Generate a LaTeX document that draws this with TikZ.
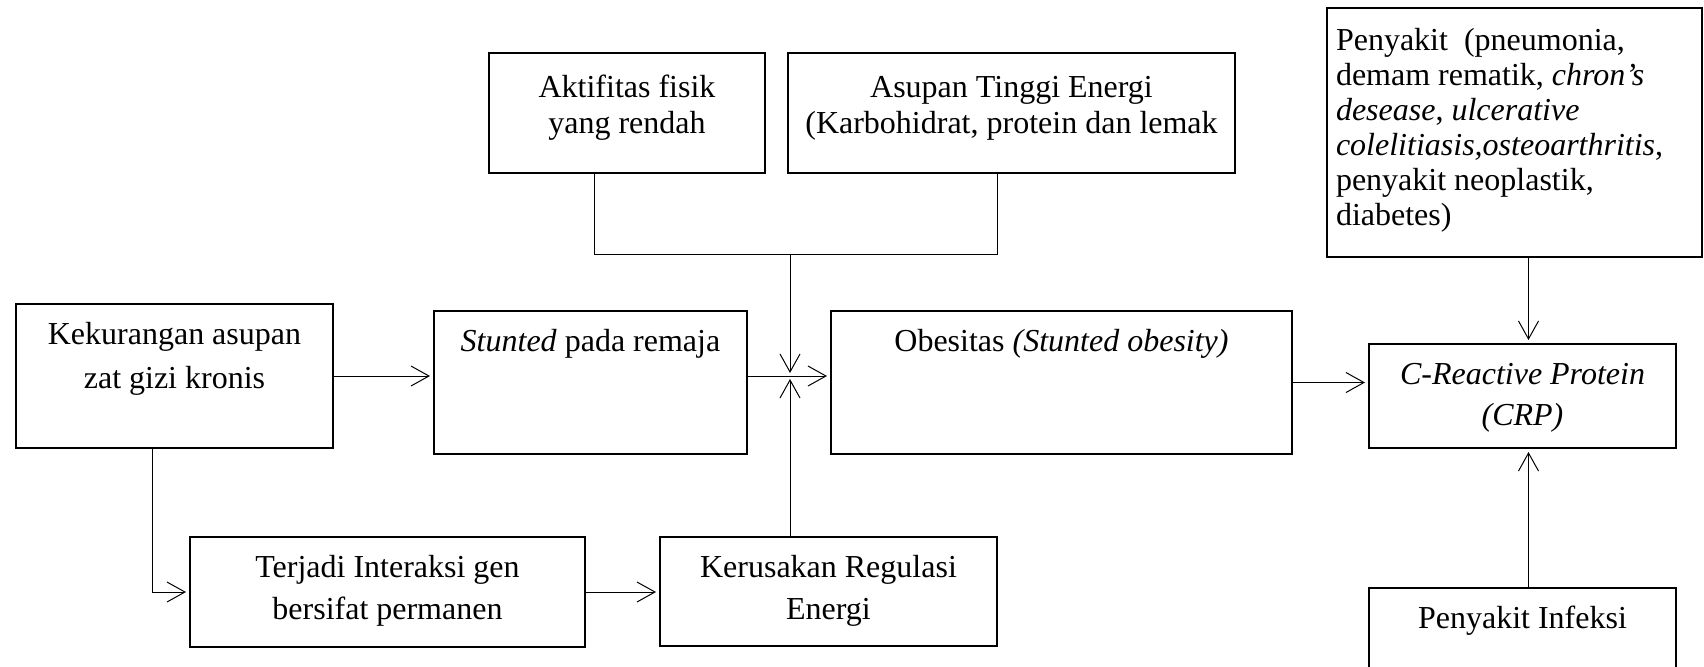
\documentclass[tikz,border=0pt]{standalone}
\usepackage{fontspec}
\setmainfont{Liberation Serif}
\usetikzlibrary{calc,arrows.meta}

% text set at the top of a box of given width and height
\newcommand{\boxtext}[4][20pt]{\parbox[c][#3][t]{#2}{\centering\rule{0pt}{#1}#4}}

\begin{document}
\begin{tikzpicture}[x=0.5pt,y=-0.5pt,font=\fontsize{16pt}{22pt}\selectfont]
% Define common parameters
\tikzset{
  box/.style={draw, line width=1pt, anchor=north west, inner sep=0pt},
  skip/.style={font=\fontsize{16pt}{#1}\selectfont},
  arr/.style={-{Straight Barb[length=9pt,width=10pt]}, line width=0.5pt, shorten >=1.5pt},
  link/.style={line width=0.5pt}
}
\clip (0,0) rectangle (1704,666);

% Left part: causes
\node[box] (kek) at (15,303) {\boxtext{158.5pt}{72pt}{Kekurangan asupan\\zat gizi kronis}};
\node[box] (stunt) at (433,310) {\boxtext{156.5pt}{71.5pt}{\textit{Stunted} pada remaja}};
\node[box,skip=21pt] (ter) at (189,536) {\boxtext{197.5pt}{55pt}{Terjadi Interaksi gen\\bersifat permanen}};
\node[box,skip=21pt] (ker) at (659,536) {\boxtext{168.5pt}{54.5pt}{Kerusakan Regulasi\\Energi}};

% Top part
\node[box,skip=18pt] (akt) at (488,52) {\boxtext[22pt]{138pt}{60pt}{Aktifitas fisik\\yang rendah}};
\node[box,skip=18pt] (asup) at (787,52) {\boxtext[22pt]{223.5pt}{60pt}{Asupan Tinggi Energi\\(Karbohidrat, protein dan lemak}};

% Middle
\node[box] (obes) at (830,310) {\boxtext{230.5pt}{71.5pt}{Obesitas \textit{(Stunted obesity)}}};

% Right part: CRP
\node[box,skip=17.5pt] (peny) at (1326,7) {\parbox[c][124.5pt][t]{187.5pt}{\raggedright\leftskip=4.5pt
  \rule{0pt}{21pt}Penyakit\ \ (pneumonia,\\
  demam rematik, \textit{chron's}\\
  \textit{desease}, \textit{ulcerative}\\
  \textit{colelitiasis,osteoarthritis},\\
  penyakit neoplastik,\\
  diabetes)}};
\node[box,skip=20.5pt] (crp) at (1368,343) {\boxtext{153.5pt}{52pt}{\itshape C-Reactive Protein\\(CRP)}};
\node[box] (inf) at (1368,587) {\boxtext{153.5pt}{52pt}{Penyakit Infeksi}};

% Junctions
\coordinate (bus) at (790,254);
\coordinate (j) at (790,376);

% Connectors
\draw[arr] (kek.east) -- (stunt.west |- kek.east);
\draw[arr] (stunt.east |- j) -- (obes.west |- j);
\draw[link] ($(akt.south west)!.384!(akt.south east)$) |- (bus)
  -| ($(asup.south west)!.468!(asup.south east)$);
\draw[arr] (bus) -- (j);
\draw[arr] (ker.north -| j) -- (j);
\draw[arr] ($(kek.south west)!.432!(kek.south east)$) |- (ter.west);
\draw[arr] (ter.east) -- (ker.west |- ter.east);
\draw[arr] (obes.east) -- (crp.west |- obes.east);
\draw[arr] ([xshift=3pt]crp.north |- peny.south) -- ([xshift=3pt]crp.north);
\draw[arr] ([xshift=3pt]inf.north) -- ([xshift=3pt]crp.south);

\end{tikzpicture}
\end{document}
